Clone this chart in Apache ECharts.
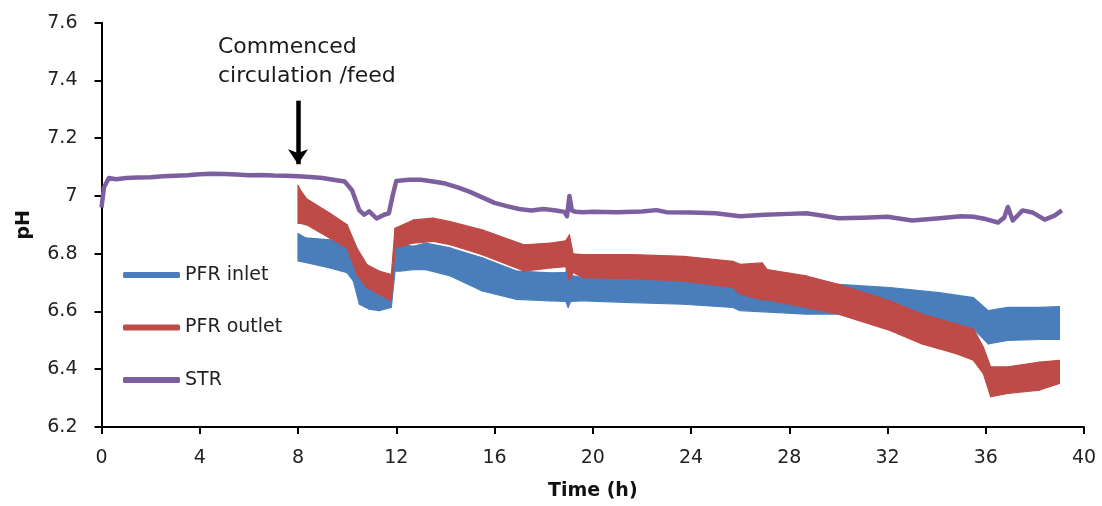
<!DOCTYPE html>
<html>
<head>
<meta charset="utf-8">
<script src="https://cdn.jsdelivr.net/npm/echarts@6/dist/echarts.min.js"></script>
<style>
html,body{margin:0;padding:0;background:#fff;}
#chart{width:1102px;height:506px;}
</style>
</head>
<body>
<div id="chart"></div>
<script>
// ---- data ----
var xTicks = [0, 4, 8, 12, 16, 20, 24, 28, 32, 36, 40];
var yTicks = [6.2, 6.4, 6.6, 6.8, 7.0, 7.2, 7.4, 7.6];

var strTime = [0, 0.1, 0.3, 0.6, 1, 1.5, 2, 2.5, 3, 3.5, 4, 4.5, 5, 5.5, 6, 6.5, 7, 7.5, 8, 8.5, 9, 9.5, 9.9, 10.2, 10.5, 10.7, 10.9, 11.2, 11.5, 11.7, 11.85, 12.0, 12.5, 13, 13.5, 14, 14.5, 15, 15.5, 16, 16.5, 17, 17.5, 18, 18.5, 18.85, 18.95, 19.05, 19.15, 19.3, 19.6, 20, 21, 22, 22.6, 23, 24, 25, 26, 27, 28, 28.7, 29.5, 30, 31, 32, 33, 34, 35, 35.5, 36, 36.5, 36.75, 36.9, 37.1, 37.5, 37.9, 38.4, 38.8, 39.1];
var strPH = [6.96, 7.03, 7.062, 7.058, 7.062, 7.064, 7.065, 7.068, 7.07, 7.072, 7.075, 7.077, 7.076, 7.074, 7.072, 7.073, 7.071, 7.07, 7.068, 7.066, 7.062, 7.055, 7.05, 7.02, 6.95, 6.935, 6.947, 6.922, 6.935, 6.94, 7.0, 7.052, 7.056, 7.056, 7.05, 7.043, 7.03, 7.014, 6.995, 6.976, 6.965, 6.955, 6.95, 6.955, 6.95, 6.945, 6.93, 7.0, 6.95, 6.945, 6.944, 6.945, 6.944, 6.946, 6.951, 6.944, 6.943, 6.94, 6.93, 6.935, 6.938, 6.94, 6.93, 6.923, 6.925, 6.928, 6.915, 6.922, 6.93, 6.928, 6.92, 6.908, 6.925, 6.962, 6.915, 6.95, 6.943, 6.918, 6.932, 6.95];

// PFR inlet: lower and upper edge of the recorded band
var inletTime = [8.0, 8.3, 9.3, 10.0, 10.25, 10.5, 10.9, 11.3, 11.8, 11.95, 12.15, 12.7, 13.2, 14.2, 15.5, 16.9, 18.3, 18.9, 19.0, 19.1, 19.6, 21.6, 23.7, 25.7, 26.0, 28.7, 30.0, 32.1, 34.1, 35.5, 36.1, 36.9, 38.2, 39.0];
var inletLow = [6.775, 6.77, 6.751, 6.734, 6.706, 6.625, 6.608, 6.603, 6.614, 6.74, 6.74, 6.745, 6.745, 6.723, 6.671, 6.642, 6.637, 6.635, 6.614, 6.635, 6.637, 6.631, 6.625, 6.614, 6.603, 6.591, 6.591, 6.58, 6.557, 6.54, 6.488, 6.5, 6.503, 6.503];
var inletHigh = [6.87, 6.855, 6.848, 6.831, 6.82, 6.728, 6.683, 6.671, 6.683, 6.82, 6.831, 6.826, 6.837, 6.82, 6.786, 6.74, 6.734, 6.735, 6.763, 6.725, 6.717, 6.711, 6.705, 6.7, 6.69, 6.68, 6.694, 6.683, 6.665, 6.648, 6.603, 6.614, 6.614, 6.617];

// PFR outlet: lower and upper edge of the recorded band
var outletTime = [8.0, 8.1, 8.35, 9.3, 10.0, 10.4, 10.8, 11.3, 11.8, 11.95, 12.7, 13.5, 14.2, 15.5, 17.2, 18.3, 18.9, 19.05, 19.2, 19.6, 21.6, 23.7, 25.7, 26.0, 26.9, 27.1, 28.7, 30.0, 32.1, 33.4, 34.8, 35.5, 35.9, 36.2, 36.9, 38.2, 39.0];
var outletLow = [6.905, 6.905, 6.9, 6.854, 6.82, 6.728, 6.683, 6.66, 6.637, 6.82, 6.837, 6.843, 6.831, 6.797, 6.74, 6.751, 6.755, 6.706, 6.735, 6.717, 6.714, 6.705, 6.683, 6.66, 6.64, 6.64, 6.614, 6.591, 6.534, 6.488, 6.454, 6.431, 6.385, 6.305, 6.316, 6.328, 6.351];
var outletHigh = [7.037, 7.02, 6.99, 6.94, 6.9, 6.82, 6.763, 6.74, 6.728, 6.888, 6.917, 6.923, 6.911, 6.883, 6.831, 6.837, 6.845, 6.865, 6.80, 6.797, 6.797, 6.791, 6.774, 6.763, 6.768, 6.745, 6.723, 6.694, 6.637, 6.591, 6.557, 6.54, 6.477, 6.408, 6.408, 6.425, 6.431];

var seriesNames = ['PFR inlet', 'PFR outlet', 'STR'];
var annotationLines = ['Commenced', 'circulation /feed'];

function pairs(t, v) { return t.map(function (x, i) { return [x, v[i]]; }); }
// one segment of the band per item: [t0, lo0, hi0, t1, lo1, hi1]
function segments(t, lo, hi) {
  var out = [];
  for (var i = 0; i < t.length - 1; i++) out.push([t[i], lo[i], hi[i], t[i + 1], lo[i + 1], hi[i + 1]]);
  return out;
}

var FONT = '"DejaVu Sans", Verdana, sans-serif';
var BLUE = '#4A7EBB', RED = '#BE4B48', PURPLE = '#7D5FA0';

function bandSeries(name, t, lo, hi, color, z) {
  return {
    name: name, type: 'custom', z: z, color: color, itemStyle: {color: color},
    encode: {x: [0, 3], y: [1, 2, 4, 5]},
    data: segments(t, lo, hi),
    renderItem: function (params, api) {
      var a = api.coord([api.value(0), api.value(1)]);
      var b = api.coord([api.value(3), api.value(4)]);
      var c = api.coord([api.value(3), api.value(5)]);
      var d = api.coord([api.value(0), api.value(2)]);
      return {
        type: 'polygon',
        shape: {points: [a, b, c, d]},
        style: {fill: color, stroke: color, lineWidth: 1.2, lineJoin: 'round'}
      };
    }
  };
}

var series = [
  bandSeries(seriesNames[0], inletTime, inletLow, inletHigh, BLUE, 2),
  bandSeries(seriesNames[1], outletTime, outletLow, outletHigh, RED, 3),
  {
    name: seriesNames[2], type: 'line', showSymbol: false, symbol: 'none',
    data: pairs(strTime, strPH), color: PURPLE, itemStyle: {color: PURPLE},
    lineStyle: {color: PURPLE, width: 4.5, join: 'round'}, z: 4,
    markLine: {
      silent: true, animation: false,
      symbol: ['none', 'arrow'], symbolSize: [15, 15],
      lineStyle: {color: '#000', width: 4.5, type: 'solid'},
      label: {show: false},
      data: [[{coord: [8, 7.33]}, {coord: [8, 7.11]}]]
    }
  }
];

var chart = echarts.init(document.getElementById('chart'), null, {renderer: 'canvas'});
chart.setOption({
  animation: false,
  backgroundColor: '#fff',
  grid: {left: 101.5, right: 18, top: 22.7, bottom: 75.4, containLabel: false},
  xAxis: {
    type: 'value', min: xTicks[0], max: xTicks[xTicks.length - 1], interval: 4,
    name: 'Time (h)', nameLocation: 'middle', nameGap: 55,
    nameTextStyle: {fontFamily: FONT, fontWeight: 'bold', fontSize: 19, color: '#111'},
    axisLine: {lineStyle: {color: '#000', width: 2}},
    axisTick: {show: true, inside: false, length: 7, lineStyle: {color: '#000', width: 2}},
    axisLabel: {fontFamily: FONT, fontSize: 19, color: '#222', margin: 22},
    splitLine: {show: false}
  },
  yAxis: {
    type: 'value', min: yTicks[0], max: yTicks[yTicks.length - 1], interval: 0.2,
    name: 'pH', nameLocation: 'middle', nameGap: 68, nameRotate: 90,
    nameTextStyle: {fontFamily: FONT, fontWeight: 'bold', fontSize: 19, color: '#111'},
    axisLine: {show: true, lineStyle: {color: '#000', width: 2}},
    axisTick: {show: true, inside: false, length: 7, lineStyle: {color: '#000', width: 2}},
    axisLabel: {fontFamily: FONT, fontSize: 19, color: '#222', margin: 24,
      formatter: function (v) { return String(Math.round(v * 10) / 10); }},
    splitLine: {show: false}
  },
  legend: {
    orient: 'vertical', left: 118, top: 260, itemGap: 32.5,
    itemWidth: 57, itemHeight: 6, icon: 'roundRect',
    textStyle: {fontFamily: FONT, fontSize: 19, color: '#222', lineHeight: 20},
    data: [
      {name: seriesNames[0], itemStyle: {color: BLUE}},
      {name: seriesNames[1], itemStyle: {color: RED}},
      {name: seriesNames[2], itemStyle: {color: PURPLE}}
    ]
  },
  series: series,
  graphic: [
    {type: 'text', left: 218, top: 36, silent: true,
     style: {text: annotationLines[0], font: '22px ' + FONT, fill: '#1a1a1a'}},
    {type: 'text', left: 218, top: 65, silent: true,
     style: {text: annotationLines[1], font: '22px ' + FONT, fill: '#1a1a1a'}}
  ]
});
</script>
</body>
</html>
